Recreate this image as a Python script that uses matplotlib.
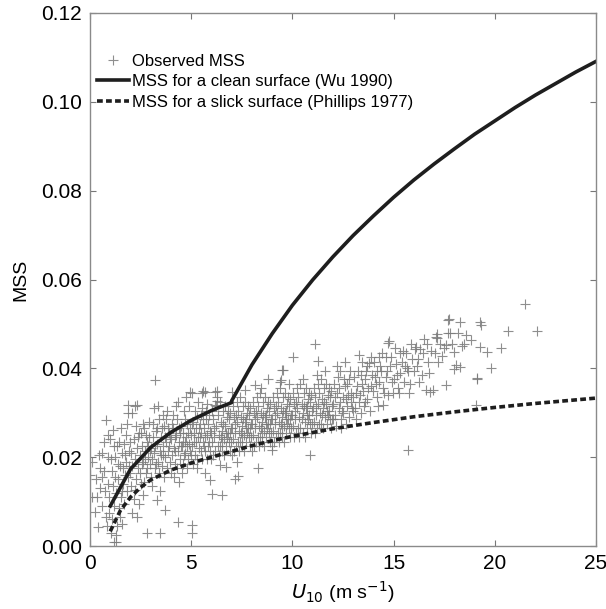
import numpy as np
import matplotlib
matplotlib.use('Agg')
from matplotlib import pyplot as plt

plt.rcParams['font.family'] = ['Liberation Sans', 'DejaVu Sans']

# wind speed / mean square slope
# clean surface (Wu 1990)
clean_u = [1, 2, 3, 4, 5, 6, 7, 7, 8, 9, 10, 11, 12, 13, 14, 15, 16, 17, 18, 19, 20, 21, 22, 23, 24, 25]
clean_mss = [0.0090, 0.0173, 0.0222, 0.0256, 0.0283, 0.0305, 0.0323, 0.0327, 0.0408, 0.0478, 0.0542,
             0.0599, 0.0651, 0.0699, 0.0743, 0.0785, 0.0824, 0.0860, 0.0894, 0.0927, 0.0957, 0.0987,
             0.1015, 0.1041, 0.1067, 0.1091]
# slick surface (Phillips 1977)
slick_u = [1, 1.5, 2, 2.5, 3, 4, 5, 6, 7, 8, 9, 10, 12, 14, 16, 18, 20, 22, 25]
slick_mss = [0.0033, 0.0080, 0.0110, 0.0132, 0.0149, 0.0171, 0.0187, 0.0200, 0.0213, 0.0226, 0.0237,
             0.0247, 0.0264, 0.0278, 0.0291, 0.0302, 0.0312, 0.0321, 0.0333]

# observed MSS, (U10, MSS) pairs by wind-speed strip
obs_0_2 = [(0.0, 0.016), (0.1, 0.019), (0.1, 0.011), (0.35, 0.011), (0.25, 0.0077), (0.4, 0.0043),
           (0.5, 0.013), (0.6, 0.021), (0.7, 0.017), (0.8, 0.0284), (0.9, 0.0251), (0.9, 0.014),
           (0.6, 0.009), (0.8, 0.0065), (0.9, 0.02), (0.7, 0.0235), (0.95, 0.011), (0.5, 0.0175),
           (0.3, 0.015), (0.85, 0.0045), (0.95, 0.0075), (0.75, 0.0125), (0.6, 0.0155), (0.45, 0.0205),
           (1.0, 0.024), (1.15, 0.0261), (1.2, 0.0008), (1.3, 0.001), (1.05, 0.003), (1.1, 0.006),
           (1.2, 0.009), (1.3, 0.012), (1.4, 0.015), (1.5, 0.018), (1.6, 0.021), (1.7, 0.023),
           (1.8, 0.019), (1.9, 0.0317), (1.9, 0.030), (1.1, 0.017), (1.25, 0.020), (1.35, 0.0045),
           (1.45, 0.0085), (1.55, 0.011), (1.65, 0.014), (1.75, 0.016), (1.85, 0.0125), (1.95, 0.0215),
           (1.15, 0.0135), (1.45, 0.0235), (1.55, 0.0265), (1.65, 0.0175), (1.8, 0.025), (1.05, 0.0195),
           (1.25, 0.0155), (1.35, 0.0225), (1.5, 0.0065), (1.7, 0.0095), (1.9, 0.0155), (1.95, 0.018),
           (1.6, 0.0125), (1.4, 0.0185), (1.2, 0.0225), (1.75, 0.0205), (1.85, 0.0275), (1.3, 0.0025),
           (1.6, 0.005)]
obs_2_4 = [(2.1, 0.030), (2.2, 0.0315), (2.3, 0.0317), (2.2, 0.0126), (2.8, 0.0029), (2.0, 0.0165),
           (2.05, 0.021), (2.1, 0.018), (2.15, 0.024), (2.2, 0.0195), (2.25, 0.015), (2.3, 0.022),
           (2.35, 0.0175), (2.4, 0.0255), (2.45, 0.0205), (2.5, 0.014), (2.55, 0.0225), (2.6, 0.019),
           (2.65, 0.0265), (2.7, 0.0215), (2.75, 0.0165), (2.8, 0.0235), (2.85, 0.02), (2.9, 0.028),
           (2.95, 0.0185), (2.05, 0.0135), (2.15, 0.0105), (2.25, 0.027), (2.35, 0.0245), (2.45, 0.0165),
           (2.55, 0.0185), (2.65, 0.0145), (2.75, 0.025), (2.85, 0.0225), (2.95, 0.0215), (2.4, 0.0095),
           (2.6, 0.0275), (2.7, 0.0195), (2.9, 0.0245), (2.3, 0.0065), (2.5, 0.0255), (2.0, 0.0235),
           (2.8, 0.0175), (2.1, 0.0075), (2.6, 0.0115),
           (3.2, 0.0374), (3.3, 0.0104), (3.46, 0.0029), (3.7, 0.0081), (3.0, 0.022), (3.05, 0.0195),
           (3.1, 0.0245), (3.15, 0.021), (3.2, 0.0175), (3.25, 0.026), (3.3, 0.023), (3.35, 0.019),
           (3.4, 0.0285), (3.45, 0.0215), (3.5, 0.0245), (3.55, 0.018), (3.6, 0.0225), (3.65, 0.027),
           (3.7, 0.020), (3.75, 0.0235), (3.8, 0.0305), (3.85, 0.0215), (3.9, 0.0255), (3.95, 0.019),
           (3.0, 0.0155), (3.1, 0.0275), (3.2, 0.0225), (3.3, 0.0265), (3.4, 0.0165), (3.5, 0.0205),
           (3.6, 0.0295), (3.7, 0.0245), (3.8, 0.0175), (3.9, 0.0225), (3.15, 0.031), (3.35, 0.0315),
           (3.55, 0.0265), (3.75, 0.0285), (3.95, 0.0245), (3.05, 0.0135), (3.45, 0.0125), (3.65, 0.0155),
           (3.85, 0.0265), (3.25, 0.0185), (3.6, 0.0205)]
obs_4_6 = [(4.36, 0.0055), (4.94, 0.0346), (5.02, 0.0047), (5.02, 0.0029), (4.0, 0.024), (4.05, 0.0205),
           (4.1, 0.0265), (4.15, 0.022), (4.2, 0.0185), (4.25, 0.025), (4.3, 0.0285), (4.35, 0.0215),
           (4.4, 0.0235), (4.45, 0.0195), (4.5, 0.027), (4.55, 0.0225), (4.6, 0.0255), (4.65, 0.0305),
           (4.7, 0.021), (4.75, 0.0245), (4.8, 0.0275), (4.85, 0.0195), (4.9, 0.023), (4.95, 0.0265),
           (4.0, 0.0165), (4.1, 0.0295), (4.2, 0.0245), (4.3, 0.0175), (4.4, 0.0265), (4.5, 0.0225),
           (4.6, 0.0185), (4.7, 0.0285), (4.8, 0.0225), (4.9, 0.0315), (4.05, 0.0275), (4.25, 0.0315),
           (4.45, 0.0255), (4.65, 0.0205), (4.85, 0.0255), (4.15, 0.0155), (4.35, 0.0325), (4.55, 0.0165),
           (4.75, 0.0335), (4.95, 0.0215), (4.4, 0.0145), (4.8, 0.0175), (4.2, 0.0215), (4.6, 0.0235),
           (4.7, 0.0235),
           (5.02, 0.0345), (5.52, 0.0345), (5.6, 0.0349), (5.7, 0.0347), (5.68, 0.0164), (5.93, 0.0149),
           (6.05, 0.0117), (5.0, 0.025), (5.05, 0.0225), (5.1, 0.028), (5.15, 0.0235), (5.2, 0.0205),
           (5.25, 0.0265), (5.3, 0.029), (5.35, 0.0245), (5.4, 0.022), (5.45, 0.0275), (5.5, 0.0255),
           (5.55, 0.031), (5.6, 0.0235), (5.65, 0.0265), (5.7, 0.0215), (5.75, 0.0285), (5.8, 0.025),
           (5.85, 0.0225), (5.9, 0.0295), (5.95, 0.026), (5.1, 0.0185), (5.2, 0.0305), (5.3, 0.0195),
           (5.4, 0.0265), (5.5, 0.0215), (5.6, 0.0285), (5.7, 0.0245), (5.8, 0.0195), (5.9, 0.0235),
           (5.15, 0.0255), (5.35, 0.0325), (5.55, 0.0195), (5.75, 0.0305), (5.95, 0.0215), (5.05, 0.0275),
           (5.25, 0.0235), (5.45, 0.0245), (5.65, 0.0225), (5.85, 0.0275), (5.3, 0.0175), (5.5, 0.0295),
           (5.8, 0.032), (5.0, 0.0205)]
obs_6_8 = [(6.2, 0.0347), (6.2, 0.0317), (6.26, 0.035), (6.26, 0.0336), (6.26, 0.0326), (6.4, 0.0183),
           (6.7, 0.0178), (6.5, 0.0115), (7.0, 0.0346), (6.0, 0.0255), (6.05, 0.0235), (6.1, 0.0285),
           (6.15, 0.0245), (6.2, 0.0215), (6.25, 0.027), (6.3, 0.0295), (6.35, 0.025), (6.4, 0.0225),
           (6.45, 0.028), (6.5, 0.026), (6.55, 0.0305), (6.6, 0.024), (6.65, 0.027), (6.7, 0.0225),
           (6.75, 0.029), (6.8, 0.0255), (6.85, 0.0235), (6.9, 0.03), (6.95, 0.0265), (6.1, 0.0205),
           (6.3, 0.0225), (6.5, 0.0215), (6.7, 0.0255), (6.9, 0.0215), (6.05, 0.0305), (6.25, 0.0315),
           (6.45, 0.0245), (6.65, 0.0315), (6.85, 0.0285), (6.15, 0.0265), (6.35, 0.0205), (6.55, 0.0275),
           (6.75, 0.0245), (6.95, 0.0235), (6.4, 0.0325), (6.6, 0.0205), (6.8, 0.0305), (6.0, 0.0195),
           (6.5, 0.0235), (6.9, 0.0255),
           (7.16, 0.0152), (7.3, 0.0157), (7.25, 0.019), (7.66, 0.0351), (7.0, 0.0265), (7.05, 0.024),
           (7.1, 0.029), (7.15, 0.0255), (7.2, 0.0225), (7.25, 0.028), (7.3, 0.0305), (7.35, 0.026),
           (7.4, 0.0235), (7.45, 0.029), (7.5, 0.027), (7.55, 0.0315), (7.6, 0.025), (7.65, 0.028),
           (7.7, 0.0235), (7.75, 0.03), (7.8, 0.0265), (7.85, 0.0245), (7.9, 0.031), (7.95, 0.0275),
           (7.1, 0.0215), (7.3, 0.0235), (7.5, 0.0225), (7.7, 0.0265), (7.9, 0.0225), (7.05, 0.0315),
           (7.25, 0.0325), (7.45, 0.0255), (7.65, 0.0325), (7.85, 0.0295), (7.15, 0.0275), (7.35, 0.0215),
           (7.55, 0.0285), (7.75, 0.0255), (7.95, 0.0245), (7.4, 0.0335), (7.6, 0.0215), (7.8, 0.0315),
           (7.0, 0.0205), (7.5, 0.0245), (7.9, 0.0265), (7.2, 0.0295), (7.7, 0.0285)]
obs_8_10 = [(8.15, 0.0362), (8.3, 0.0175), (8.97, 0.0216), (8.78, 0.0375), (8.0, 0.0275), (8.05, 0.025),
            (8.1, 0.03), (8.15, 0.0265), (8.2, 0.0235), (8.25, 0.029), (8.3, 0.0315), (8.35, 0.027),
            (8.4, 0.0245), (8.45, 0.03), (8.5, 0.028), (8.55, 0.0325), (8.6, 0.026), (8.65, 0.029),
            (8.7, 0.0245), (8.75, 0.031), (8.8, 0.0275), (8.85, 0.0255), (8.9, 0.032), (8.95, 0.0285),
            (8.1, 0.0225), (8.3, 0.0245), (8.5, 0.0235), (8.7, 0.0275), (8.9, 0.0235), (8.05, 0.0325),
            (8.25, 0.0335), (8.45, 0.0265), (8.65, 0.0335), (8.85, 0.0305), (8.15, 0.0285), (8.35, 0.0225),
            (8.55, 0.0295), (8.75, 0.0265), (8.95, 0.0255), (8.4, 0.0345), (8.6, 0.0225), (8.8, 0.0325),
            (8.0, 0.0215), (8.5, 0.0255), (8.9, 0.0275), (8.2, 0.0305), (8.7, 0.0295), (8.45, 0.0355),
            (9.4, 0.037), (9.42, 0.0374), (9.47, 0.0396), (9.55, 0.0396), (9.0, 0.0285), (9.05, 0.026),
            (9.1, 0.031), (9.15, 0.0275), (9.2, 0.0245), (9.25, 0.03), (9.3, 0.0325), (9.35, 0.028),
            (9.4, 0.0255), (9.45, 0.031), (9.5, 0.029), (9.55, 0.0335), (9.6, 0.027), (9.65, 0.03),
            (9.7, 0.0255), (9.75, 0.032), (9.8, 0.0285), (9.85, 0.0265), (9.9, 0.033), (9.95, 0.0295),
            (9.1, 0.0235), (9.3, 0.0255), (9.5, 0.0245), (9.7, 0.0285), (9.9, 0.0245), (9.05, 0.0335),
            (9.25, 0.0345), (9.45, 0.0275), (9.65, 0.0345), (9.85, 0.0315), (9.15, 0.0295), (9.35, 0.0235),
            (9.55, 0.0305), (9.75, 0.0275), (9.95, 0.0265), (9.4, 0.0355), (9.6, 0.0235), (9.8, 0.0335),
            (9.0, 0.0225), (9.5, 0.0265), (9.9, 0.0285), (9.2, 0.0315), (9.7, 0.0305), (9.85, 0.0365)]
obs_10_12 = [(10.05, 0.0425), (10.87, 0.0205), (10.0, 0.0295), (10.05, 0.027), (10.1, 0.032), (10.15, 0.0285),
             (10.2, 0.0255), (10.25, 0.031), (10.3, 0.0335), (10.35, 0.029), (10.4, 0.0265), (10.45, 0.032),
             (10.5, 0.03), (10.55, 0.0345), (10.6, 0.028), (10.65, 0.031), (10.7, 0.0265), (10.75, 0.033),
             (10.8, 0.0295), (10.85, 0.0275), (10.9, 0.034), (10.95, 0.0305), (10.1, 0.0245), (10.3, 0.0265),
             (10.5, 0.0255), (10.7, 0.0295), (10.9, 0.0255), (10.05, 0.0345), (10.25, 0.0355), (10.45, 0.0285),
             (10.65, 0.0355), (10.85, 0.0325), (10.15, 0.0305), (10.35, 0.0245), (10.55, 0.0315), (10.75, 0.0285),
             (10.95, 0.0275), (10.4, 0.0365), (10.6, 0.0245), (10.8, 0.0345), (10.2, 0.0325), (10.7, 0.0315),
             (10.5, 0.0375),
             (11.1, 0.0454), (11.28, 0.0416), (11.0, 0.031), (11.05, 0.028), (11.1, 0.0335), (11.15, 0.0295),
             (11.2, 0.0265), (11.25, 0.032), (11.3, 0.0345), (11.35, 0.03), (11.4, 0.0275), (11.45, 0.033),
             (11.5, 0.031), (11.55, 0.0355), (11.6, 0.029), (11.65, 0.032), (11.7, 0.0275), (11.75, 0.034),
             (11.8, 0.0305), (11.85, 0.0285), (11.9, 0.035), (11.95, 0.0315), (11.1, 0.0255), (11.3, 0.0275),
             (11.5, 0.0265), (11.7, 0.0305), (11.9, 0.0265), (11.05, 0.0355), (11.25, 0.0365), (11.45, 0.0295),
             (11.65, 0.0365), (11.85, 0.0335), (11.15, 0.0315), (11.55, 0.0325), (11.75, 0.0295), (11.95, 0.0285),
             (11.4, 0.0375), (11.8, 0.0355), (11.2, 0.0385), (11.6, 0.0395)]
obs_12_15 = [(12.0, 0.032), (12.1, 0.0295), (12.2, 0.0345), (12.3, 0.031), (12.4, 0.0285), (12.5, 0.0335),
             (12.6, 0.036), (12.7, 0.0315), (12.8, 0.029), (12.9, 0.0345), (12.05, 0.0365), (12.15, 0.027),
             (12.25, 0.038), (12.35, 0.0325), (12.45, 0.0305), (12.55, 0.0375), (12.65, 0.0275), (12.75, 0.034),
             (12.85, 0.0395), (12.95, 0.031), (12.1, 0.0335), (12.3, 0.0355), (12.5, 0.03), (12.7, 0.0365),
             (12.9, 0.0325), (12.2, 0.0405), (12.6, 0.0415), (12.4, 0.0265), (12.8, 0.0375), (12.0, 0.0285),
             (12.65, 0.033), (12.35, 0.0395),
             (13.0, 0.0335), (13.1, 0.031), (13.2, 0.036), (13.3, 0.0325), (13.4, 0.03), (13.5, 0.035),
             (13.6, 0.0375), (13.7, 0.033), (13.8, 0.0411), (13.9, 0.036), (13.05, 0.038), (13.15, 0.0285),
             (13.25, 0.0395), (13.35, 0.034), (13.45, 0.0415), (13.55, 0.0315), (13.65, 0.0395), (13.75, 0.0355),
             (13.85, 0.0305), (13.95, 0.0385), (13.15, 0.0345), (13.45, 0.0365), (13.7, 0.0405), (13.3, 0.043),
             (13.6, 0.0325), (13.9, 0.0425), (13.0, 0.0305), (13.4, 0.0385),
             (14.3, 0.0425), (14.5, 0.0317), (14.6, 0.0426), (14.74, 0.0456), (14.76, 0.0462), (14.0, 0.035),
             (14.1, 0.038), (14.2, 0.0335), (14.3, 0.037), (14.4, 0.0395), (14.5, 0.0355), (14.6, 0.038),
             (14.7, 0.034), (14.8, 0.0405), (14.9, 0.037), (14.05, 0.0415), (14.15, 0.0365), (14.25, 0.0315),
             (14.35, 0.0405), (14.45, 0.0435), (14.55, 0.0345), (14.65, 0.0395), (14.85, 0.0425), (14.95, 0.0345),
             (14.2, 0.0395)]
obs_15_up = [(15.3, 0.0434), (15.7, 0.0216), (15.0, 0.0375), (15.1, 0.041), (15.2, 0.0355), (15.3, 0.039),
             (15.4, 0.0415), (15.5, 0.037), (15.6, 0.0435), (15.7, 0.0395), (15.8, 0.0365), (15.9, 0.042),
             (15.05, 0.0445), (15.25, 0.0345), (15.45, 0.044), (15.65, 0.04), (15.85, 0.0455), (15.15, 0.0385),
             (15.55, 0.0405), (15.75, 0.0345),
             (16.05, 0.0443), (16.1, 0.0448), (16.3, 0.0443), (16.6, 0.0351), (16.8, 0.0347), (16.95, 0.0352),
             (16.0, 0.0395), (16.2, 0.042), (16.4, 0.0385), (16.5, 0.0465), (16.7, 0.0415), (16.85, 0.044),
             (16.25, 0.037), (16.45, 0.0435), (16.65, 0.0455), (16.15, 0.0405), (16.75, 0.039),
             (17.1, 0.0471), (17.12, 0.0477), (17.15, 0.0468), (17.4, 0.0428), (17.5, 0.0445), (17.6, 0.0452),
             (17.6, 0.0362), (17.7, 0.0509), (17.7, 0.0479), (17.75, 0.051), (17.8, 0.048), (17.3, 0.0455),
             (17.2, 0.0415), (17.9, 0.0455), (17.05, 0.0435),
             (18.0, 0.0437), (18.0, 0.0398), (18.1, 0.0407), (18.2, 0.048), (18.28, 0.0505), (18.28, 0.0402),
             (18.36, 0.045), (18.6, 0.0475), (18.8, 0.0464), (18.5, 0.0455),
             (19.07, 0.0317), (19.1, 0.0378), (19.13, 0.0376), (19.27, 0.0505), (19.3, 0.0498), (19.27, 0.0449),
             (19.6, 0.0437), (19.8, 0.0401), (20.3, 0.0446), (20.67, 0.0483), (21.5, 0.0544), (22.07, 0.0485)]

obs = np.array(obs_0_2 + obs_2_4 + obs_4_6 + obs_6_8 + obs_8_10 + obs_10_12 + obs_12_15 + obs_15_up)

fig = plt.figure(figsize=(6.06, 6.09), dpi=100)
ax = fig.add_axes([0.1485, 0.1034, 0.835, 0.8753])

ax.plot(obs[:, 0], obs[:, 1], '+', color='#7a7a7a', markersize=6.5, markeredgewidth=0.8,
        alpha=0.85, label='Observed MSS')
ax.plot(clean_u, clean_mss, '-', color='#1e1e1e', lw=2.6, label='MSS for a clean surface (Wu 1990)')
ax.plot(slick_u, slick_mss, color='#1e1e1e', lw=2.6, linestyle=(0, (1.6, 0.9)),
        label='MSS for a slick surface (Phillips 1977)')

ax.set_xlim(0, 25)
ax.set_ylim(0, 0.12)
ax.set_xticks([0, 5, 10, 15, 20, 25])
ax.set_yticks([0.00, 0.02, 0.04, 0.06, 0.08, 0.10, 0.12])
ax.set_yticklabels(['0.00', '0.02', '0.04', '0.06', '0.08', '0.10', '0.12'])
ax.tick_params(direction='in', length=4, width=0.8, color='#777777', top=True, right=True,
               labelsize=15, pad=6)
for s in ax.spines.values():
    s.set_color('#8a8a8a')
    s.set_linewidth(1.0)

ax.set_xlabel('$\\mathit{U}_{10}$ (m s$^{-1}$)', fontsize=14, labelpad=4)
ax.set_ylabel('MSS', fontsize=14, labelpad=8)

leg = ax.legend(loc='upper left', bbox_to_anchor=(0.0, 0.936), frameon=False, fontsize=12,
                handlelength=1.95, handletextpad=0.2, borderaxespad=0.0, labelspacing=0.33)

plt.savefig('out.png', dpi=100)
